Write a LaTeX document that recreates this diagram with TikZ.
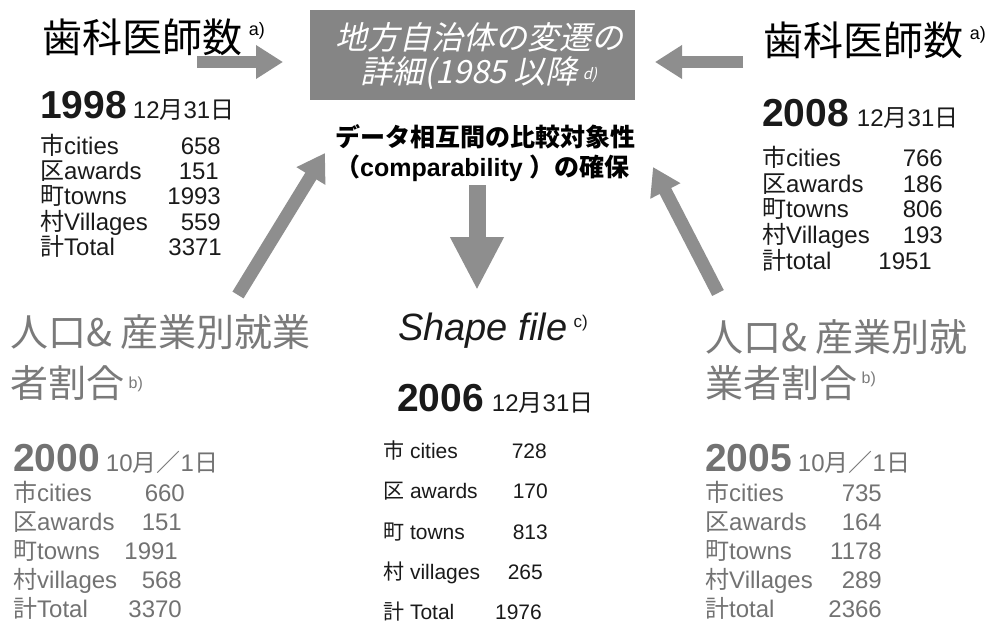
\documentclass[tikz,border=0pt]{standalone}
\usepackage{fontspec}
\setmainfont{Liberation Sans}
\newfontfamily\jp{Noto Sans CJK JP}
\newfontfamily\jpit{Noto Sans CJK JP}[FakeSlant=0.22]
\usetikzlibrary{arrows.meta}
\newcommand\J[1]{{\jp #1}}
\newcommand\fs[1]{\fontsize{#1}{#1}\selectfont}
\definecolor{boxgray}{HTML}{858585}
\definecolor{arrgray}{HTML}{8E8E8E}
\definecolor{darktxt}{HTML}{1A1A1A}
\definecolor{lighttxt}{HTML}{727272}
\definecolor{headgray}{HTML}{7A7A7A}
\begin{document}
\begin{tikzpicture}[x=1pt,y=-1pt,
  txt/.style={inner sep=0pt, anchor=base west},
  boxtxt/.style={inner sep=0pt, anchor=center, align=center, text=white, font=\jpit\fontsize{32}{34}\selectfont},
  histbox/.style={fill=boxgray, draw=none, minimum width=325pt, minimum height=90pt, inner sep=0pt},
  rowtop/.style={txt, text=darktxt, font=\fs{24}},
  numtop/.style={inner sep=0pt, anchor=base east, text=darktxt, font=\fs{24}},
  rowmid/.style={txt, text=darktxt, font=\fs{21}},
  nummid/.style={inner sep=0pt, anchor=base east, text=darktxt, font=\fs{21}},
  rowlow/.style={txt, text=lighttxt, font=\fs{24}},
  numlow/.style={inner sep=0pt, anchor=base east, text=lighttxt, font=\fs{24}},
  blockarrow/.style={draw=arrgray, line width=12pt, -{Triangle[length=27pt,width=32pt]}},
  bigarrow/.style={draw=arrgray, line width=17pt, -{Triangle[length=53pt,width=50pt]}}
]
\useasboundingbox (0,0) rectangle (999,627);

% central box
\node[histbox] (hist) at (472.5,55) {};
\node[boxtxt] (histtxt) at (479,56) {地方自治体の変遷の\\詳細(1985 以降\hspace{5pt}\raisebox{4pt}{\fs{15}d)}};

% comparability text
\node[txt, font=\jp\bfseries\fs{25}, text=black] (comp1) at (335,146.5) {データ相互間の比較対象性};
\node[txt, font=\fs{25}\bfseries, text=black] (comp2) at (335,176.5) {\J{（}comparability \J{）の確保}};

% top headings
\node[txt, font=\jp\fs{40}, text=black] (dentL) at (42,52) {歯科医師数\,\raisebox{17pt}{\rmfamily\fs{18}a)}};
\node[txt, font=\jp\fs{40}, text=black] (dentR) at (763,55) {歯科医師数\,\raisebox{16pt}{\rmfamily\fs{18}a)}};

% 1998 block
\node[txt, text=darktxt] (y1998) at (40,118) {{\bfseries\fs{39}1998}\hspace{6pt}{\fs{24}12\J{月}31\J{日}}};
\foreach \lab/\num/\yy/\xn [count=\i] in {\J{市}cities/658/154/221, \J{区}awards/151/179/219, \J{町}towns/1993/204/221, \J{村}Villages/559/230/221, \J{計}Total/3371/255/222} {
  \node[rowtop] (tl\i) at (40,\yy) {\lab};
  \node[numtop] (tn\i) at (\xn,\yy) {\num};
}

% 2008 block
\node[txt, text=darktxt] (y2008) at (762,126) {{\bfseries\fs{39}2008}\hspace{8pt}{\fs{24}12\J{月}31\J{日}}};
\foreach \lab/\num/\yy/\xn [count=\i] in {\J{市}cities/766/166/943, \J{区}awards/186/192/943, \J{町}towns/806/217/943, \J{村}Villages/193/243/943, \J{計}total/1951/269/932} {
  \node[rowtop] (rl\i) at (762,\yy) {\lab};
  \node[numtop] (rn\i) at (\xn,\yy) {\num};
}

% bottom-left block
\node[txt, font=\jp\fs{38}, text=headgray] (popL1) at (10,346) {人口\& 産業別就業};
\node[txt, font=\jp\fs{38}, text=headgray] (popL2) at (10,397) {者割合\raisebox{9pt}{\rmfamily\fs{16} b)}};
\node[txt, text=lighttxt] (y2000) at (13,471) {{\bfseries\fs{39}2000}\hspace{6pt}{\fs{24}10\J{月／}1\J{日}}};
\foreach \lab/\num/\yy/\xn [count=\i] in {\J{市}cities/660/501/185, \J{区}awards/151/530/182, \J{町}towns/1991/559/178, \J{村}villages/568/588/182, \J{計}Total/3370/617/182} {
  \node[rowlow] (ll\i) at (13,\yy) {\lab};
  \node[numlow] (ln\i) at (\xn,\yy) {\num};
}

% middle block
\node[txt, font=\itshape\fs{38}, text=darktxt] (shape) at (398,340) {Shape file\,\raisebox{13pt}{\upshape\fs{17}c)}};
\node[txt, text=darktxt] (y2006) at (397,411) {{\bfseries\fs{39}2006}\hspace{8pt}{\fs{24}12\J{月}31\J{日}}};
\foreach \lab/\num/\yy/\xn [count=\i] in {\J{市} cities/728/458/547, \J{区} awards/170/498/548, \J{町} towns/813/539/548, \J{村} villages/265/579/543, \J{計} Total/1976/619/542} {
  \node[rowmid] (ml\i) at (383,\yy) {\lab};
  \node[nummid] (mn\i) at (\xn,\yy) {\num};
}

% bottom-right block
\node[txt, font=\jp\fs{38}, text=headgray] (popR1) at (705,351) {人口\& 産業別就};
\node[txt, font=\jp\fs{38}, text=headgray] (popR2) at (705,397) {業者割合\raisebox{14pt}{\rmfamily\fs{16} b)}};
\node[txt, text=lighttxt] (y2005) at (705,471) {{\bfseries\fs{39}2005}\hspace{6pt}{\fs{24}10\J{月／}1\J{日}}};
\foreach \lab/\num/\yy/\xn [count=\i] in {\J{市}cities/735/501/882, \J{区}awards/164/530/882, \J{町}towns/1178/559/882, \J{村}Villages/289/588/882, \J{計}total/2366/617/882} {
  \node[rowlow] (bl\i) at (705,\yy) {\lab};
  \node[numlow] (bn\i) at (\xn,\yy) {\num};
}

% arrows
\coordinate (a1s) at (197,62);  \coordinate (a1e) at (283,62);
\coordinate (a2s) at (743,62);  \coordinate (a2e) at (655,62);
\coordinate (a3s) at (477,185); \coordinate (a3e) at (477,290);
\coordinate (a4s) at (238,295); \coordinate (a4e) at (325,153);
\coordinate (a5s) at (718,293); \coordinate (a5e) at (653,167);
\draw[blockarrow] (a1s) -- (a1e);
\draw[blockarrow] (a2s) -- (a2e);
\draw[bigarrow] (a3s) -- (a3e);
\draw[blockarrow, line width=13pt] (a4s) -- (a4e);
\draw[blockarrow, line width=13pt] (a5s) -- (a5e);
\end{tikzpicture}
\end{document}
